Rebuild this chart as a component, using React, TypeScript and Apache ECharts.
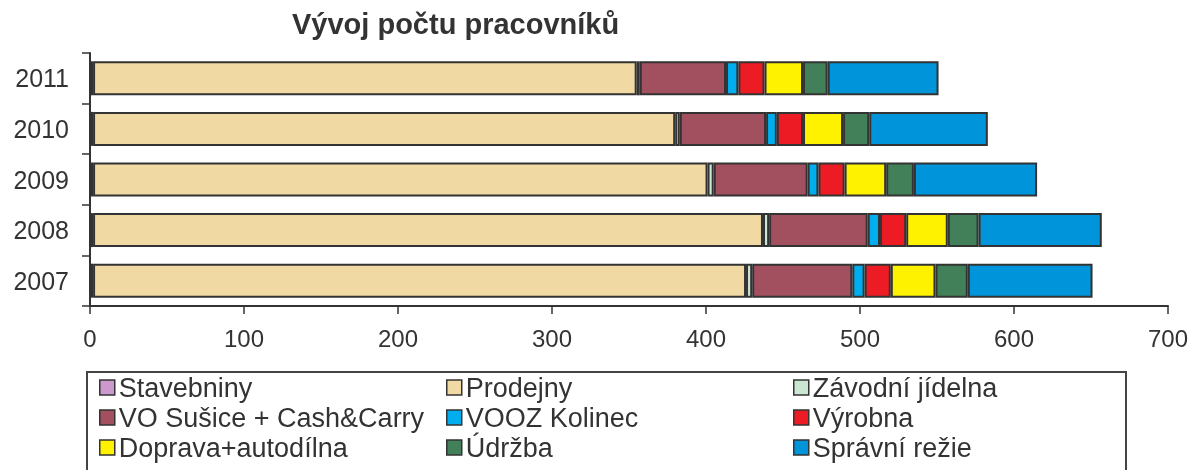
import React, { useEffect, useRef } from "react";
import * as echarts from "echarts";

const years = ["2007", "2008", "2009", "2010", "2011"];
const stavebniny = [2, 2, 2, 2, 2];
const prodejny = [424, 435, 399, 378, 353];
const zavodniJidelna = [4, 4, 4, 3, 2];
const voSusice = [65, 64, 61, 56, 56];
const voozKolinec = [8, 8, 7, 7, 8];
const vyrobna = [17, 17, 17, 17, 17];
const doprava = [29, 27, 27, 26, 25];
const udrzba = [21, 20, 18, 17, 16];
const spravniRezie = [81, 80, 80, 77, 72];
const xTicks = [0, 100, 200, 300, 400, 500, 600, 700];

const seriesDefs = [
  { name: "Stavebniny", data: stavebniny, color: "#CC99CC" },
  { name: "Prodejny", data: prodejny, color: "#F1D9A3" },
  { name: "Závodní jídelna", data: zavodniJidelna, color: "#CCE6D4" },
  { name: "VO Sušice + Cash&Carry", data: voSusice, color: "#A24F5F" },
  { name: "VOOZ Kolinec", data: voozKolinec, color: "#00AEEF" },
  { name: "Výrobna", data: vyrobna, color: "#ED1C24" },
  { name: "Doprava+autodílna", data: doprava, color: "#FFF200" },
  { name: "Údržba", data: udrzba, color: "#418059" },
  { name: "Správní režie", data: spravniRezie, color: "#0095DA" },
];

const legendCols = [
  ["Stavebniny", "VO Sušice + Cash&Carry", "Doprava+autodílna"],
  ["Prodejny", "VOOZ Kolinec", "Údržba"],
  ["Závodní jídelna", "Výrobna", "Správní režie"],
];
const legendLefts = [99, 446, 793];

export default function App() {
  const ref = useRef<HTMLDivElement>(null);
  useEffect(() => {
    if (!ref.current) return;
    const chart = echarts.init(ref.current, null, { renderer: "svg" });
    const font = "'Liberation Sans', Arial, sans-serif";
    chart.setOption({
      animation: false,
      textStyle: { fontFamily: font },
      title: {
        text: "Vývoj počtu pracovníků",
        left: 292,
        top: 9,
        padding: 0,
        textStyle: { fontSize: 29, fontWeight: "bold", color: "#333", fontFamily: font },
      },
      grid: { left: 90, right: 29, top: 53, bottom: 164, containLabel: false },
      xAxis: {
        type: "value",
        min: 0,
        max: 700,
        interval: 100,
        axisLine: { show: true, lineStyle: { color: "#333", width: 2 } },
        axisTick: { show: true, length: 8, lineStyle: { color: "#333", width: 1.5 } },
        splitLine: { show: false },
        axisLabel: {
          fontSize: 24,
          color: "#333",
          margin: 20,
          fontFamily: font,
          formatter: (v: number) => (xTicks.includes(v) ? String(v) : ""),
        },
      },
      yAxis: {
        type: "category",
        data: years,
        axisLine: { show: true, lineStyle: { color: "#333", width: 2 } },
        axisTick: { show: true, length: 8, lineStyle: { color: "#333", width: 1.5 } },
        axisLabel: { fontSize: 25, color: "#333", margin: 21, fontFamily: font },
      },
      legend: legendCols.map((col, i) => ({
        orient: "vertical",
        left: legendLefts[i],
        top: 374,
        width: 340,
        height: 96,
        padding: 0,
        itemWidth: 15,
        itemHeight: 15,
        itemGap: 3,
        icon: "rect",
        data: col,
        selectedMode: false,
        textStyle: { fontSize: 27, color: "#333", lineHeight: 27, fontFamily: font, padding: [0, 0, 0, -1] },
        itemStyle: { borderColor: "#333", borderWidth: 1.5 },
      })),
      graphic: [
        {
          type: "rect",
          shape: { x: 87, y: 372, width: 1039, height: 120 },
          style: { fill: "none", stroke: "#444", lineWidth: 2 },
          silent: true,
        },
      ],
      series: seriesDefs.map((s) => ({
        name: s.name,
        type: "bar",
        stack: "total",
        data: s.data,
        barWidth: 34,
        itemStyle: { color: s.color, borderColor: "#333", borderWidth: 2 },
      })),
    });
    return () => chart.dispose();
  }, []);
  return (
    <div
      ref={ref}
      style={{ position: "fixed", left: 0, top: 0, width: 1197, height: 470 }}
    />
  );
}
